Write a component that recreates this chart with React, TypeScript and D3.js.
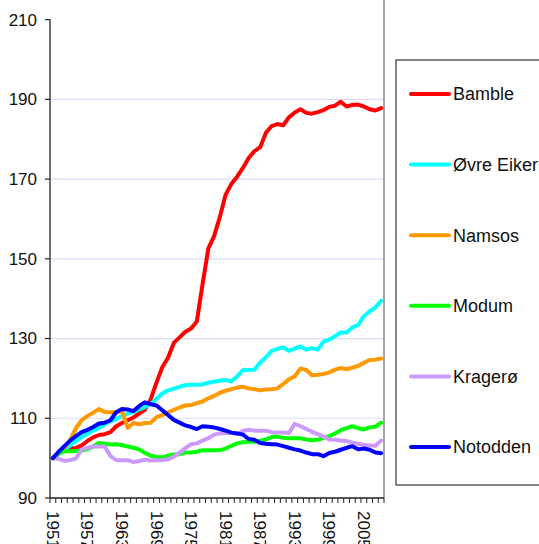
import React from "react";
import * as d3 from "d3";

const years: number[] = d3.range(1951, 2009);

const bamble = [100,101.2,102.3,102.5,102.5,103.2,104.3,105.2,105.8,106,106.5,108,108.8,109.5,110.2,111.2,112.2,114.8,119,122.8,125.2,128.9,130.3,131.7,132.5,134.3,143.7,152.6,155.7,160.5,166.1,168.8,170.6,172.8,175.3,177,178,181.6,183.3,183.8,183.5,185.5,186.7,187.5,186.6,186.4,186.8,187.3,188.1,188.4,189.4,188.2,188.6,188.7,188.2,187.5,187.2,187.8];
const ovreEiker = [100,101,102,103.2,104.3,105.3,106.1,106.9,107.6,108.5,109.2,109.8,110.6,111.2,111.6,112.2,112.8,113.6,114.9,116.2,117,117.4,117.9,118.3,118.4,118.4,118.5,118.9,119.2,119.4,119.6,119.3,120.5,122.1,122.1,122.2,124,125.3,126.9,127.4,127.8,126.9,127.5,128,127.2,127.6,127.2,129.2,129.7,130.6,131.5,131.5,132.8,133.4,135.6,136.8,137.8,139.5];
const namsos = [100,101.2,102.6,104.5,107.5,109.5,110.6,111.4,112.3,111.6,111.5,111.5,111.8,107.6,108.8,108.5,108.8,108.9,110.3,110.8,111.5,112.1,112.7,113.2,113.3,113.8,114.2,115,115.6,116.4,116.9,117.3,117.7,117.9,117.5,117.3,117,117.2,117.3,117.5,118.6,119.8,120.5,122.5,122.1,120.8,120.9,121.1,121.5,122.2,122.6,122.3,122.7,123.1,123.9,124.6,124.7,125];
const modum = [100,101.2,101.7,101.7,101.8,101.9,102.3,102.9,103.8,103.6,103.4,103.5,103.3,102.9,102.6,102.2,101.3,100.6,100.3,100.2,100.6,100.9,101,101.4,101.4,101.6,102,102,102,102,102.4,103.1,103.7,104,104.1,104.1,104.4,104.7,105.3,105.4,105.1,105,105,105,104.7,104.5,104.6,105.1,105.5,106.2,107,107.5,108,107.5,107.2,107.7,107.9,108.9];
const kragero = [100,99.8,99.3,99.5,99.9,102.2,102.6,102.9,102.9,102.9,100.5,99.5,99.5,99.5,99,99.3,99.6,99.4,99.5,99.5,99.7,100.4,101.4,102.5,103.5,103.7,104.4,105,105.9,106.2,106.3,106.3,106.1,106.8,107.1,106.9,106.9,106.9,106.5,106.4,106.4,106.3,108.6,108,107.3,106.6,106,105.4,104.7,104.6,104.4,104.3,103.9,103.6,103.3,103.2,103.1,104.4];
const notodden = [100,101.6,103,104.4,105.5,106.5,107.1,107.8,108.7,108.9,109.5,111.5,112.3,112.2,111.8,113.1,114,113.5,113.2,112,110.8,109.6,108.9,108.2,107.8,107.3,108,107.9,107.7,107.3,106.9,106.4,106.2,105.9,104.8,104.6,103.8,103.6,103.5,103.4,103,102.6,102.2,101.9,101.4,101,101,100.5,101.3,101.6,102.1,102.6,103,102.2,102.4,102.1,101.4,101.2];

const seriesNames = ["Bamble", "Øvre Eiker", "Namsos", "Modum", "Kragerø", "Notodden"];
const seriesValues = [bamble, ovreEiker, namsos, modum, kragero, notodden];
const seriesColors = ["#ff0000", "#00ffff", "#ff9900", "#00ff00", "#cc99ff", "#0000ff"];
const yTicks = [90, 110, 130, 150, 170, 190, 210];
const gridTicks = [110, 130, 150, 170, 190];
const labelYears = [1951, 1957, 1963, 1969, 1975, 1981, 1987, 1993, 1999, 2005];

const FONT = "'Liberation Sans', Arial, sans-serif";

export default function App() {
  const left = 50, right = 384, top = 19.6, bottom = 498;
  const x = d3.scaleBand<number>().domain(years).range([left, right]).padding(0);
  const xc = (yr: number) => (x(yr) as number) + x.bandwidth() / 2;
  const y = d3.scaleLinear().domain([90, 210]).range([bottom, top]);
  const line = d3.line<number>().x((_, i) => xc(years[i])).y((v) => y(v));
  const tickXs = years.map((yr) => x(yr) as number).concat([right]);

  const legX = 396, legY = 60, legH = 425, legW = 150;
  const legStep = 70.6;
  const legFirst = 94;

  return (
    <svg width={539} height={544} style={{ position: "absolute", left: 0, top: 0, background: "#fff" }}>
      {gridTicks.map((t) => (
        <line key={t} x1={left} x2={right} y1={y(t)} y2={y(t)} stroke="#dcdcf8" strokeWidth={1.2} />
      ))}
      <line x1={right} x2={right} y1={0} y2={bottom} stroke="#888" strokeWidth={1.5} />
      {seriesValues.map((vals, i) => (
        <path key={seriesNames[i]} d={line(vals) || ""} fill="none" stroke={seriesColors[i]} strokeWidth={4} strokeLinejoin="round" strokeLinecap="round" />
      ))}
      <line x1={left} x2={left} y1={top} y2={bottom} stroke="#222" strokeWidth={1.3} />
      <line x1={left} x2={right} y1={bottom} y2={bottom} stroke="#222" strokeWidth={1.3} />
      {yTicks.map((t) => (
        <g key={t}>
          <line x1={left - 5} x2={left} y1={y(t)} y2={y(t)} stroke="#222" strokeWidth={1.2} />
          <text x={37} y={y(t)} dy="0.35em" textAnchor="end" fontFamily={FONT} fontSize={17} fill="#111">{t}</text>
        </g>
      ))}
      {tickXs.map((tx, i) => (
        <line key={i} x1={tx} x2={tx} y1={bottom} y2={bottom + 5} stroke="#222" strokeWidth={1} />
      ))}
      {labelYears.map((yr) => (
        <text key={yr} transform={`translate(${xc(yr)},${511}) rotate(90)`} dy="0.35em" textAnchor="start" fontFamily={FONT} fontSize={17} fill="#111">{yr}</text>
      ))}
      <rect x={legX} y={legY} width={legW} height={legH} fill="#fff" stroke="#333" strokeWidth={1.2} />
      {seriesNames.map((n, i) => (
        <g key={n}>
          <line x1={411} x2={449} y1={legFirst + i * legStep} y2={legFirst + i * legStep} stroke={seriesColors[i]} strokeWidth={4} strokeLinecap="round" />
          <text x={453} y={legFirst + i * legStep} dy="0.35em" fontFamily={FONT} fontSize={18} fill="#111">{n}</text>
        </g>
      ))}
    </svg>
  );
}
